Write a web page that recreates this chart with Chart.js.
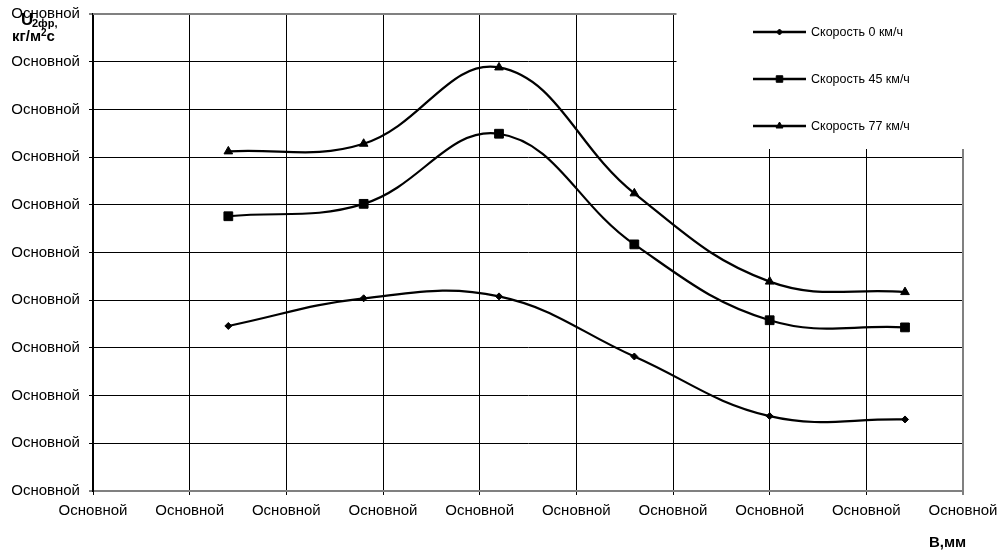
<!DOCTYPE html>
<html>
<head>
<meta charset="utf-8">
<script src="https://cdn.jsdelivr.net/npm/chart.js@4/dist/chart.umd.min.js"></script>
<style>
  html, body { margin: 0; padding: 0; background: #fff; }
  #wrap { width: 1001px; height: 551px; }
</style>
</head>
<body>
<div id="wrap"><canvas id="c" width="1001" height="551"></canvas></div>
<script>
// Distance across the sample, B (mm)
const xValues = [1.4, 2.8, 4.2, 5.6, 7.0, 8.4];

// U2фр for each air speed
const speed0 = [3.46, 4.04, 4.08, 2.82, 1.57, 1.50];
const speed45 = [5.76, 6.02, 7.49, 5.17, 3.58, 3.43];
const speed77 = [7.12, 7.28, 8.88, 6.24, 4.39, 4.17];

const seriesNames = ['Скорость 0 км/ч', 'Скорость 45 км/ч', 'Скорость 77 км/ч'];
const seriesMarkers = ['rectRot', 'rect', 'triangle'];
const tickText = 'Основной';

const FONT = "'Liberation Sans', Arial, sans-serif";

const toPoints = (ys) => ys.map((y, i) => ({ x: xValues[i], y }));

const markerRadius = { rectRot: 3.5, rect: 6.2, triangle: 5 };
const legendRadius = { rectRot: 3, rect: 4.6, triangle: 4 };

const datasets = [speed0, speed45, speed77].map((vals, i) => ({
  label: seriesNames[i],
  data: toPoints(vals),
  borderColor: '#000',
  backgroundColor: '#000',
  borderWidth: 2.2,
  tension: 0.4,
  pointStyle: seriesMarkers[i],
  pointRadius: markerRadius[seriesMarkers[i]],
  pointBorderWidth: 1,
  pointBackgroundColor: '#000',
  pointBorderColor: '#000'
}));

// Legend box in the upper right and the axis captions
const decorations = {
  id: 'decorations',
  afterDraw(chart) {
    const ctx = chart.ctx;
    const area = chart.chartArea;
    ctx.save();

    // plot frame: top and right edges
    ctx.strokeStyle = '#808080';
    ctx.lineWidth = 2;
    ctx.beginPath();
    ctx.moveTo(area.left, area.top);
    ctx.lineTo(area.right, area.top);
    ctx.moveTo(area.right, area.top);
    ctx.lineTo(area.right, area.bottom);
    ctx.stroke();

    // legend background
    ctx.fillStyle = '#fff';
    ctx.fillRect(676.5, 0, 1001 - 676.5, 149);

    // legend entries
    const rows = [32, 79, 126];
    ctx.textBaseline = 'middle';
    ctx.textAlign = 'left';
    ctx.font = '12.5px ' + FONT;
    rows.forEach((y, i) => {
      ctx.strokeStyle = '#000';
      ctx.lineWidth = 2.5;
      ctx.beginPath();
      ctx.moveTo(753, y);
      ctx.lineTo(806, y);
      ctx.stroke();
      ctx.fillStyle = '#000';
      ctx.lineWidth = 1;
      Chart.helpers.drawPoint(ctx, {
        pointStyle: seriesMarkers[i],
        radius: legendRadius[seriesMarkers[i]],
        borderWidth: 1,
        rotation: 0
      }, 779.5, y);
      ctx.fillStyle = '#000';
      ctx.fillText(seriesNames[i], 811, y + 0.5);
    });

    // y-axis caption: U2фр, кг/м²с
    ctx.fillStyle = '#000';
    ctx.textBaseline = 'alphabetic';
    ctx.font = 'bold 17px ' + FONT;
    ctx.fillText('U', 21, 25);
    ctx.font = 'bold 11px ' + FONT;
    ctx.fillText('2фр,', 32, 26.5);
    ctx.font = 'bold 15px ' + FONT;
    ctx.fillText('кг/м', 12, 41);
    let w = ctx.measureText('кг/м').width;
    ctx.font = 'bold 10px ' + FONT;
    ctx.fillText('2', 12 + w, 36);
    let w2 = ctx.measureText('2').width;
    ctx.font = 'bold 15px ' + FONT;
    ctx.fillText('с', 12 + w + w2, 41);

    // x-axis caption
    ctx.font = 'bold 15px ' + FONT;
    ctx.fillText('В,мм', 929, 547);

    ctx.restore();
  }
};

new Chart(document.getElementById('c'), {
  type: 'line',
  data: { datasets },
  options: {
    responsive: false,
    animation: false,
    layout: { padding: { top: 14, right: 38, left: 0, bottom: 0 } },
    plugins: {
      legend: { display: false },
      tooltip: { enabled: false }
    },
    scales: {
      x: {
        type: 'linear',
        min: 0,
        max: 9,
        afterFit(scale) {
          scale.height = 60;
          scale.paddingLeft = 0;
          scale.paddingRight = 0;
        },
        ticks: {
          stepSize: 1,
          autoSkip: false,
          maxRotation: 0,
          padding: 7,
          color: '#000',
          font: { family: FONT, size: 15 },
          callback: () => tickText
        },
        grid: {
          color: (c) => (c.tick && c.tick.value === 9) ? '#808080' : '#000',
          lineWidth: (c) => (c.tick && c.tick.value === 9) ? 2 : 1,
          tickColor: '#000',
          tickWidth: 1,
          tickLength: 4
        },
        border: { color: '#808080', width: 2 }
      },
      y: {
        min: 0,
        max: 10,
        afterFit(scale) {
          scale.width = 93;
          scale.paddingTop = 0;
          scale.paddingBottom = 0;
        },
        ticks: {
          stepSize: 1,
          padding: 9,
          color: '#000',
          font: { family: FONT, size: 15 },
          callback: () => tickText
        },
        grid: {
          color: (c) => (c.tick && (c.tick.value === 0 || c.tick.value === 10)) ? '#808080' : '#000',
          lineWidth: (c) => (c.tick && (c.tick.value === 0 || c.tick.value === 10)) ? 2 : 1,
          tickColor: '#000',
          tickWidth: 1,
          tickLength: 4
        },
        border: { color: '#000', width: 2 }
      }
    }
  },
  plugins: [decorations]
});
</script>
</body>
</html>
